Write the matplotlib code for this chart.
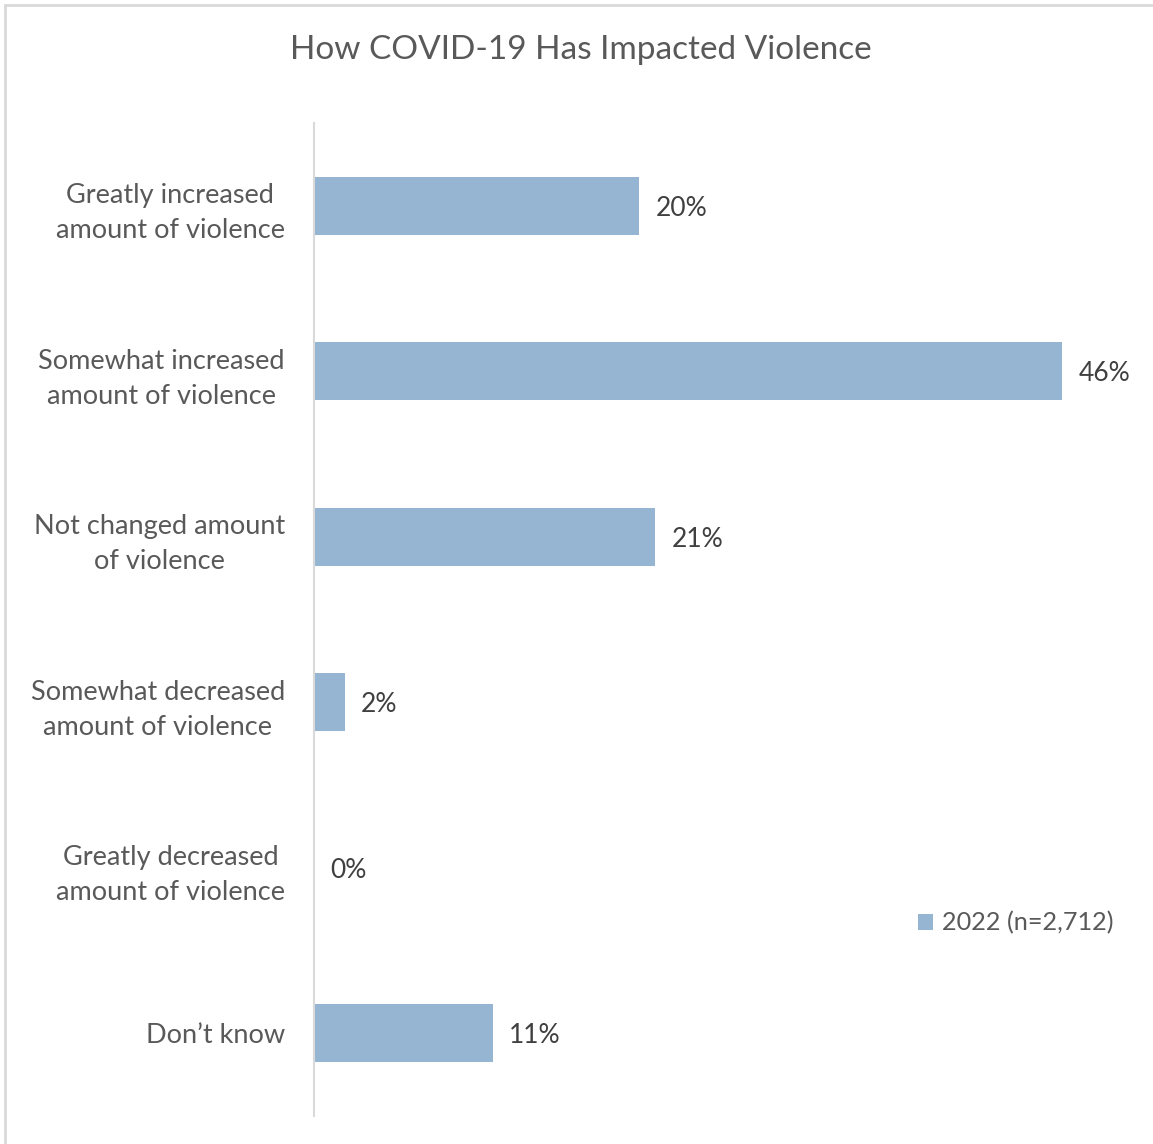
import matplotlib
matplotlib.use("Agg")
import matplotlib.pyplot as plt
from matplotlib.patches import Rectangle

plt.rcParams['font.family'] = ['Lato', 'DejaVu Sans']

categories = ["Greatly increased\namount of violence",
              "Somewhat increased\namount of violence",
              "Not changed amount\nof violence",
              "Somewhat decreased\namount of violence",
              "Greatly decreased\namount of violence",
              "Don\u2019t know"]
values = [20, 46, 21, 1.9, 0, 11]
value_labels = ["20%", "46%", "21%", "2%", "0%", "11%"]
series_name = "2022 (n=2,712)"

bar_color = "#95B5D3"
W, H = 1153, 1144
fig = plt.figure(figsize=(W / 100, H / 100), dpi=100)
ax = fig.add_axes([314 / W, 1 - 1116 / H, (1127 - 314) / W, (1116 - 123) / H])

ypos = list(range(len(categories)))
bars = ax.barh(ypos, values, height=0.35, color=bar_color, label=series_name)
for y, v, lab in zip(ypos, values, value_labels):
    ax.text(v + 1.0, y, lab, va="center_baseline", ha="left", fontsize=19, color="#404040")

ax.set_xlim(0, 50)
ax.set_ylim(len(categories) - 0.5, -0.5)
ax.set_yticks(ypos)
ax.set_yticklabels(categories, fontsize=19.5, color="#595959", multialignment="center",
                   linespacing=1.5)
ax.tick_params(axis="y", length=0, pad=21)
ax.set_xticks([])
for s in ["top", "right", "bottom"]:
    ax.spines[s].set_visible(False)
ax.spines["left"].set_color("#D9D9D9")
ax.spines["left"].set_linewidth(1.5)

fig.text(581 / W, 1 - 50 / H, "How COVID-19 Has Impacted Violence", ha="center", va="center",
         fontsize=24, color="#595959")

leg = fig.legend(loc="center left", bbox_to_anchor=(895 / W, 1 - 923 / H), frameon=False,
                 fontsize=18.2, handlelength=0.6, handleheight=0.6, handletextpad=0.35,
                 labelcolor="#595959")

# outer chart frame (only left/top visible in crop)
fig.patches.append(Rectangle((5 / W, -0.1), 1.2, 1 - 5 / H + 0.1, transform=fig.transFigure,
                             fill=False, edgecolor="#D9D9D9", linewidth=2))

fig.savefig("out.png", dpi=100)
